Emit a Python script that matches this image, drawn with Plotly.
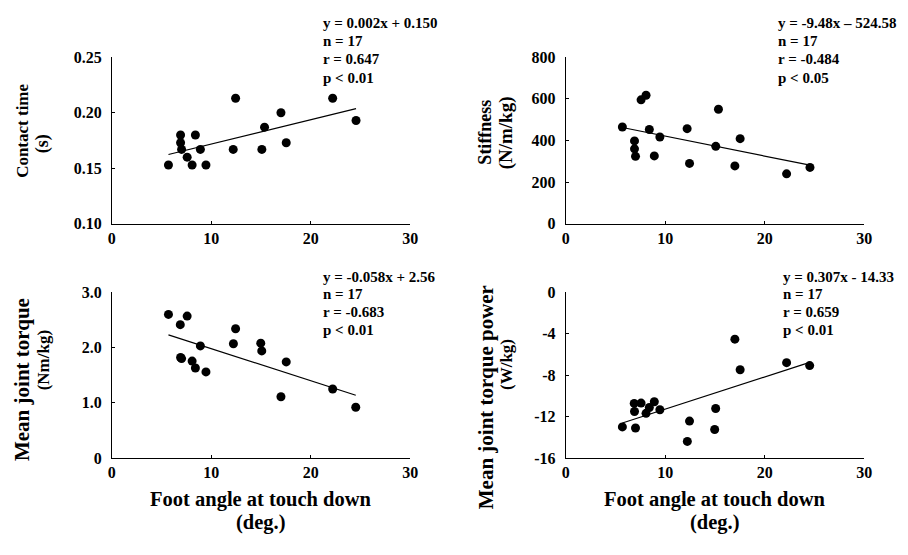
import numpy as np
import plotly.graph_objects as go

W, H = 908, 555
FONT = "Liberation Serif"

# Foot angle at touch down (deg.) for the 17 runners
angle_top = [5.69, 6.91, 6.91, 7.01, 7.57, 8.07, 8.40, 8.90, 9.46,
             12.20, 12.44, 15.08, 15.35, 17.00, 17.53, 22.20, 24.55]
angle_bottom = [5.69, 6.88, 6.91, 7.01, 7.57, 8.07, 8.40, 8.90, 9.46,
                12.22, 12.44, 14.97, 15.07, 17.00, 17.53, 22.20, 24.52]

contact_time = [0.153, 0.180, 0.173, 0.167, 0.160, 0.153, 0.180, 0.167, 0.153,
                0.167, 0.213, 0.167, 0.187, 0.200, 0.173, 0.213, 0.193]
stiffness = [465, 398, 360, 324, 595, 617, 453, 326, 417,
             457, 290, 372, 550, 278, 409, 240, 271]
joint_torque = [2.60, 2.415, 1.82, 1.80, 2.57, 1.755, 1.63, 2.03, 1.56,
                2.07, 2.34, 2.08, 1.94, 1.11, 1.74, 1.25, 0.92]
joint_power = [-12.99, -10.72, -11.50, -13.10, -10.69, -11.68, -11.12, -10.56, -11.34,
               -14.39, -12.43, -13.24, -11.21, -4.52, -7.48, -6.79, -7.07]

x_ticks = [0, 10, 20, 30]
ct_ticks = [0.10, 0.15, 0.20, 0.25]
ct_labels = ["0.10", "0.15", "0.20", "0.25"]
st_ticks = [0, 200, 400, 600, 800]
st_labels = ["0", "200", "400", "600", "800"]
tq_ticks = [0, 1, 2, 3]
tq_labels = ["0", "1.0", "2.0", "3.0"]
pw_ticks = [-16, -12, -8, -4, 0]
pw_labels = ["-16", "-12", "-8", "-4", "0"]

stats_ct = ["y = 0.002x + 0.150", "n = 17", "r = 0.647", "p < 0.01"]
stats_st = ["y = -9.48x \u2013 524.58", "n = 17", "r = -0.484", "p < 0.05"]
stats_tq = ["y = -0.058x + 2.56", "n = 17", "r = -0.683", "p < 0.01"]
stats_pw = ["y = 0.307x - 14.33", "n = 17", "r = 0.659", "p < 0.01"]


def px_x(p):
    return p / W


def px_y(p):
    return 1 - p / H


# plot boxes in pixels: (left, right, top, bottom)
boxes = [
    (109.3, 411.7, 50.7, 222.7),
    (569.3, 871.7, 50.7, 222.7),
    (109.3, 411.7, 293.3, 464.3),
    (569.3, 871.7, 293.3, 464.3),
]

panels = [
    dict(x=angle_top, y=contact_time, yr=[0.10, 0.25], tv=ct_ticks, tt=ct_labels, stats=stats_ct),
    dict(x=angle_top, y=stiffness, yr=[0, 800], tv=st_ticks, tt=st_labels, stats=stats_st),
    dict(x=angle_bottom, y=joint_torque, yr=[0, 3], tv=tq_ticks, tt=tq_labels, stats=stats_tq),
    dict(x=angle_bottom, y=joint_power, yr=[-16, 0], tv=pw_ticks, tt=pw_labels, stats=stats_pw),
]

fig = go.Figure()
tickfont = dict(family=FONT, size=16, color="black", weight="bold")

for i, (p, box) in enumerate(zip(panels, boxes), start=1):
    xa = "x" if i == 1 else f"x{i}"
    ya = "y" if i == 1 else f"y{i}"
    fig.add_trace(go.Scatter(
        x=p["x"], y=p["y"], mode="markers", xaxis=xa, yaxis=ya,
        marker=dict(size=9, color="black"), showlegend=False, cliponaxis=False))
    slope, icpt = np.polyfit(p["x"], p["y"], 1)
    lx = np.array([min(p["x"]), max(p["x"])])
    fig.add_trace(go.Scatter(
        x=lx, y=slope * lx + icpt, mode="lines", xaxis=xa, yaxis=ya,
        line=dict(color="black", width=1.2), showlegend=False))

    l, r, t, b = box
    common = dict(showline=True, linecolor="black", linewidth=1, showgrid=False,
                  zeroline=False, ticks="inside", ticklen=3, tickcolor="black",
                  tickwidth=1, tickfont=tickfont, fixedrange=True)
    fig.layout[f"xaxis{'' if i == 1 else i}"] = dict(
        domain=[px_x(l), px_x(r)], range=[0, 30], tickvals=x_ticks,
        anchor=ya, ticklabelstandoff=0, **common)
    fig.layout[f"yaxis{'' if i == 1 else i}"] = dict(
        domain=[px_y(b), px_y(t)], range=p["yr"], tickvals=p["tv"], ticktext=p["tt"],
        anchor=xa, ticklabelstandoff=6, **common)

annotations = []

# regression statistics, one line per annotation
stat_pos = [(321.7, 15, 19), (782.7, 15, 19), (321.7, 277, 18.4), (787.7, 277, 18.4)]
for p, (sx, sy, step) in zip(panels, stat_pos):
    for k, line in enumerate(p["stats"]):
        annotations.append(dict(
            xref="paper", yref="paper", x=px_x(sx), y=px_y(sy + k * step),
            xanchor="left", yanchor="middle", text=line, showarrow=False,
            font=dict(family=FONT, size=15, color="black", weight="bold")))

# y-axis titles, one annotation per line: text, x px, y px, font size
ytitles = [
    ("Contact time", 18, 127, 17), ("(s)", 39, 140, 18),
    ("Stiffness", 488, 128, 18), ("(N/m/kg)", 509, 129, 19),
    ("Mean joint torque", 19, 383, 21), ("(Nm/kg)", 40, 363, 17),
    ("Mean joint torque power", 488, 402, 21), ("(W/kg)", 509, 368, 17),
]
for txt, tx, ty, fs in ytitles:
    annotations.append(dict(
        xref="paper", yref="paper", x=px_x(tx), y=px_y(ty), xanchor="center", yanchor="middle",
        text=txt, textangle=-90, showarrow=False,
        font=dict(family=FONT, size=fs, color="black", weight="bold")))

# x-axis titles under the bottom row
for cx in (260.5, 720.5):
    annotations.append(dict(
        xref="paper", yref="paper", x=px_x(cx), y=px_y(507), xanchor="center", yanchor="middle",
        text="Foot angle at touch down", showarrow=False,
        font=dict(family=FONT, size=20.5, color="black", weight="bold")))
    annotations.append(dict(
        xref="paper", yref="paper", x=px_x(cx), y=px_y(531), xanchor="center", yanchor="middle",
        text="(deg.)", showarrow=False,
        font=dict(family=FONT, size=20.5, color="black", weight="bold")))

fig.update_layout(
    width=W, height=H, margin=dict(l=0, r=0, t=0, b=0),
    paper_bgcolor="white", plot_bgcolor="white",
    annotations=annotations, showlegend=False,
    font=dict(family=FONT, color="black"),
)

fig.write_html("out.html", config={"displayModeBar": False})
